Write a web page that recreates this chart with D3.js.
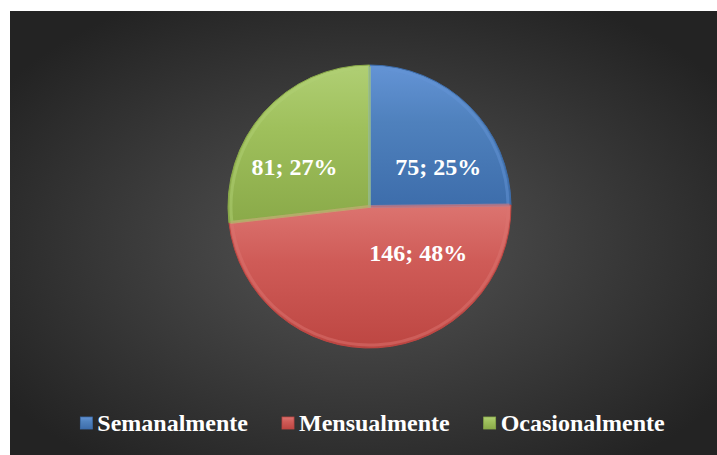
<!DOCTYPE html>
<html>
<head>
<meta charset="utf-8">
<script src="https://cdn.jsdelivr.net/npm/d3@7"></script>
<style>
  body { margin: 0; background: #ffffff; }
  svg { display: block; }
  text { font-family: "Liberation Serif", "Times New Roman", serif; font-weight: bold; fill: #ffffff; }
</style>
</head>
<body>
<div id="chart"></div>
<script>
// data
var categories = ["Semanalmente", "Mensualmente", "Ocasionalmente"];
var values = [75, 146, 81];
var percents = ["25%", "48%", "27%"];

var svgWidth = 717;
var svgHeight = 455;

// colours: [light, base, dark]
var colors = [
  ["#6494d6", "#4f81bd", "#3d6dab"],
  ["#dc7470", "#cf5b57", "#bd4642"],
  ["#b0cf74", "#9fc05c", "#8aaa49"]
];

// where each label sits, relative to the slice centroid (label layout only)
var labelShift = [[14, 24], [44, -23], [-17, 20]];

var svg = d3.select("#chart")
  .append("svg")
  .attr("width", svgWidth)
  .attr("height", svgHeight);

var defs = svg.append("defs");

// background gradient
var bg = defs.append("radialGradient")
  .attr("id", "bgGrad")
  .attr("cx", "50%").attr("cy", "52%").attr("r", "62%");
bg.append("stop").attr("offset", "0%").attr("stop-color", "#555555");
bg.append("stop").attr("offset", "100%").attr("stop-color", "#232323");

svg.append("rect")
  .attr("x", 10)
  .attr("y", 11)
  .attr("width", svgWidth - 10)
  .attr("height", svgHeight - 11)
  .attr("fill", "url(#bgGrad)");

// slice gradients
colors.forEach(function(c, i) {
  var g = defs.append("linearGradient")
    .attr("id", "slice" + i)
    .attr("x1", "0%").attr("y1", "0%")
    .attr("x2", "0%").attr("y2", "100%");
  g.append("stop").attr("offset", "0%").attr("stop-color", c[0]);
  g.append("stop").attr("offset", "40%").attr("stop-color", c[1]);
  g.append("stop").attr("offset", "100%").attr("stop-color", c[2]);
});

var cx = 369.5, cy = 206.5, radius = 141.5;

var pieGroup = svg.append("g")
  .attr("transform", `translate(${cx}, ${cy})`);

var pie = d3.pie().sort(null).value(d => d);
var arcs = pie(values);

var arc = d3.arc().innerRadius(0).outerRadius(radius);
var bevelArc = d3.arc().innerRadius(0).outerRadius(radius - 3);
var labelArc = d3.arc().innerRadius(radius * 0.55).outerRadius(radius * 0.55);

// Slices
pieGroup.selectAll("path.slice")
  .data(arcs)
  .enter()
  .append("path")
  .attr("class", "slice")
  .attr("d", arc)
  .attr("fill", (d, i) => "url(#slice" + i + ")")
  .attr("stroke", (d, i) => colors[i][2])
  .attr("stroke-width", 1);

// soft bevel highlight
pieGroup.selectAll("path.bevel")
  .data(arcs)
  .enter()
  .append("path")
  .attr("class", "bevel")
  .attr("d", bevelArc)
  .attr("fill", "none")
  .attr("stroke", (d, i) => colors[i][0])
  .attr("stroke-opacity", 0.5)
  .attr("stroke-width", 3);

// Labels
pieGroup.selectAll("text.label")
  .data(arcs)
  .enter()
  .append("text")
  .attr("class", "label")
  .attr("x", (d, i) => labelArc.centroid(d)[0] + labelShift[i][0])
  .attr("y", (d, i) => labelArc.centroid(d)[1] + labelShift[i][1])
  .attr("text-anchor", "middle")
  .attr("font-size", "24px")
  .text((d, i) => values[i] + "; " + percents[i]);

// Legend
var legend = svg.append("g");
var items = legend.selectAll("g")
  .data(categories)
  .enter()
  .append("g");

items.append("rect")
  .attr("x", 0)
  .attr("y", -14)
  .attr("width", 12)
  .attr("height", 12)
  .attr("fill", (d, i) => "url(#slice" + i + ")")
  .attr("stroke", (d, i) => colors[i][2])
  .attr("stroke-width", 0.8);

items.append("text")
  .attr("x", 17)
  .attr("y", 0)
  .attr("font-size", "24px")
  .text(d => d);

var pos = 0;
items.each(function() {
  var w = 17 + d3.select(this).select("text").node().getComputedTextLength();
  d3.select(this).attr("transform", `translate(${pos}, 0)`);
  pos += w + 34;
});
var legendWidth = pos - 34;
legend.attr("transform", `translate(${82 + (581 - legendWidth) / 2}, 431)`);
</script>
</body>
</html>
